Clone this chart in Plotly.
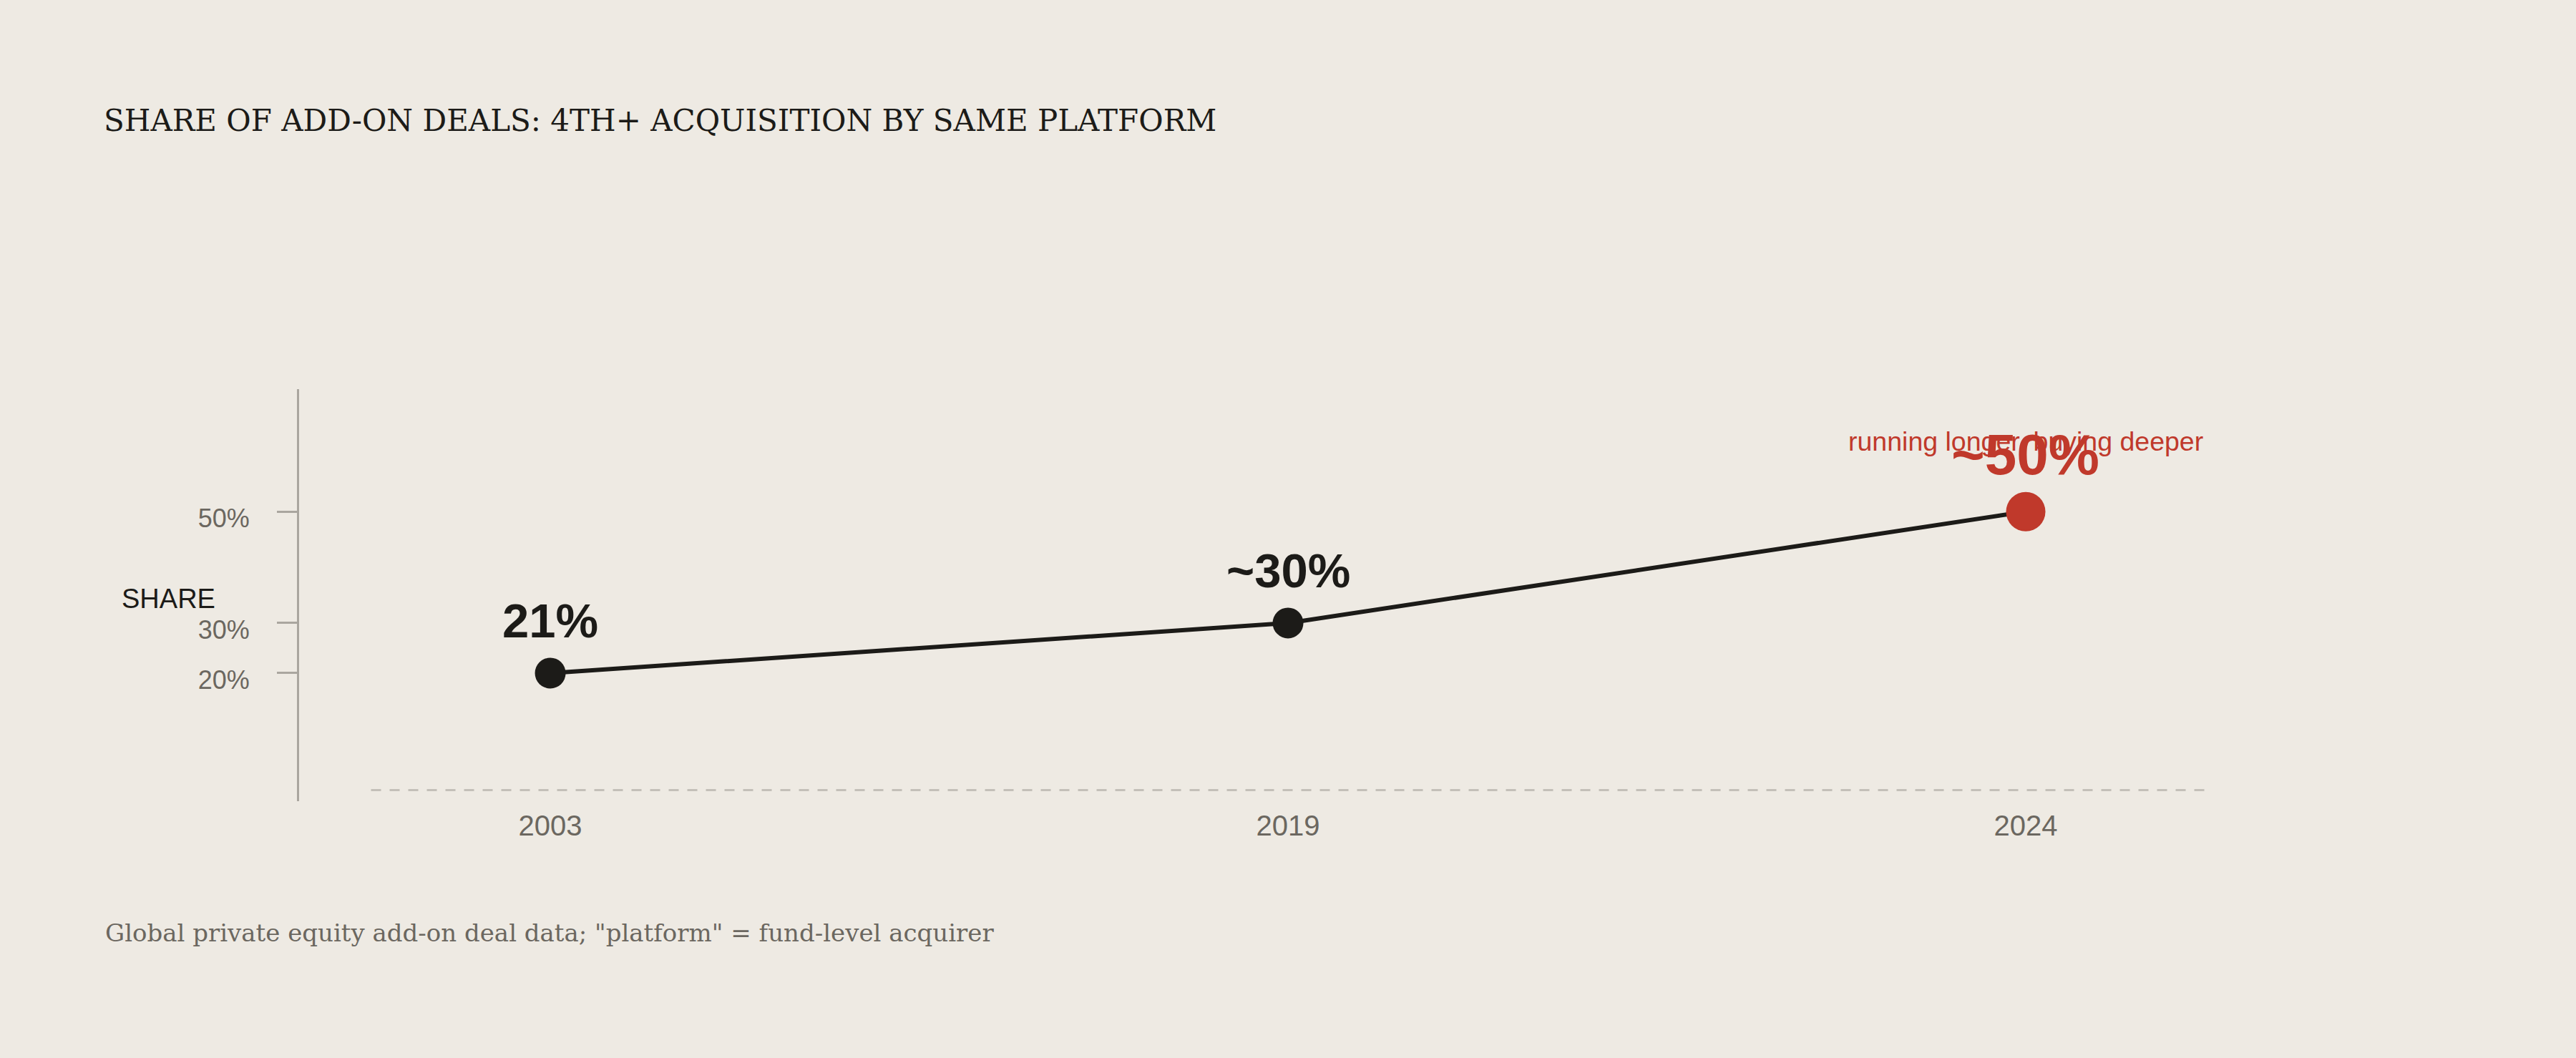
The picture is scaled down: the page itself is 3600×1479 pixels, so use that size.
import plotly.graph_objects as go

# ---- data ----
years = ["2003", "2019", "2024"]
share = [21, 30, 50]
point_labels = ["21%", "~30%", "~50%"]
ytick_vals = [21, 30, 50]
ytick_text = ["20%", "30%", "50%"]
highlight_index = 2

title_text = "SHARE OF ADD-ON DEALS: 4TH+ ACQUISITION BY SAME PLATFORM"
note_text = "running longer, buying deeper"
caption_text = 'Global private equity add-on deal data; "platform" = fund-level acquirer'
yaxis_label = "SHARE"

# ---- style ----
BG = "#eeeae3"
INK = "#1c1b18"
RED = "#c0392b"
GREY = "#6b6760"
LIGHT = "#aaa69f"
DASH = "#c4c0b9"
SANS = "Liberation Sans, Arial, sans-serif"
SERIF = "DejaVu Serif, Liberation Serif, serif"

W, H = 3600, 1479
L, R, T, B = 418, 519, 544, 359
PW, PH = W - L - R, H - T - B

normal = dict(color=INK, size=43, font=67, shift=73)
hilite = dict(color=RED, size=55, font=80, shift=80)
styles = [hilite if i == highlight_index else normal for i in range(len(years))]
xpos = list(range(len(years)))

fig = go.Figure()

fig.add_trace(go.Scatter(
    x=xpos, y=share, mode="lines",
    line=dict(color=INK, width=6),
    hoverinfo="skip", showlegend=False,
))
fig.add_trace(go.Scatter(
    x=xpos, y=share, mode="markers",
    marker=dict(color=[s["color"] for s in styles],
                size=[s["size"] for s in styles],
                opacity=1, line=dict(width=0)),
    hoverinfo="skip", showlegend=False,
))

# baseline (dashed, at zero)
fig.add_shape(type="line", xref="x", yref="y", x0=-0.243, x1=2.2425, y0=0, y1=0,
              line=dict(color=DASH, width=3, dash="14px,12px"), layer="below")

annotations = []
for x, y, t, s in zip(xpos, share, point_labels, styles):
    annotations.append(dict(
        x=x, y=y, xref="x", yref="y", text="<b>%s</b>" % t, showarrow=False,
        yshift=s["shift"], xanchor="center", yanchor="middle",
        font=dict(family=SANS, size=s["font"], color=s["color"]),
    ))

annotations.append(dict(
    x=1, y=0.873, xref="paper", yref="paper", text=note_text, showarrow=False,
    xanchor="right", yanchor="middle",
    font=dict(family=SANS, size=37.5, color=RED),
))
annotations.append(dict(
    x=(168 - L) / PW, y=0.491, xref="paper", yref="paper", text=yaxis_label,
    showarrow=False, xanchor="left", yanchor="middle",
    font=dict(family=SANS, size=38, color=INK),
))
annotations.append(dict(
    x=(145 - L) / PW, y=(H - B - 1304) / PH, xref="paper", yref="paper",
    text=caption_text, showarrow=False, xanchor="left", yanchor="middle",
    font=dict(family=SERIF, size=34, color=GREY),
))

fig.update_layout(
    width=W, height=H,
    margin=dict(l=L, r=R, t=T, b=B, pad=0),
    paper_bgcolor=BG, plot_bgcolor=BG,
    title=dict(text=title_text, x=145 / W, xanchor="left", y=1 - 168 / H, yanchor="middle",
               font=dict(family=SERIF, size=42, color=INK)),
    annotations=annotations,
    xaxis=dict(range=[-0.3405, 2.2425], showgrid=False, zeroline=False,
               showline=False, ticks="", tickvals=xpos, ticktext=years,
               tickfont=dict(family=SANS, size=40, color=GREY),
               ticklabelstandoff=7, fixedrange=True),
    yaxis=dict(range=[-2, 72], showgrid=False, zeroline=False, showline=True,
               linecolor=LIGHT, linewidth=3, ticks="outside", ticklen=28, tickwidth=3,
               tickcolor=LIGHT, tickvals=ytick_vals, ticktext=ytick_text,
               tickfont=dict(family=SANS, size=36, color=GREY), ticklabelstandoff=31,
               ticklabelshift=9, fixedrange=True),
)

fig.write_html("out.html", config={"displayModeBar": False},
               post_script="document.body.style.margin='0';")
